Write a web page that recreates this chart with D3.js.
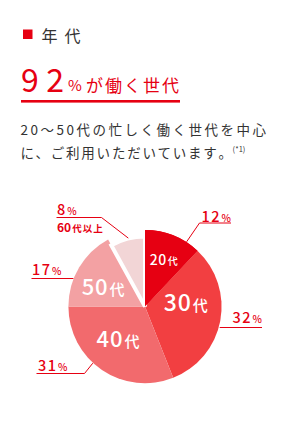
<!DOCTYPE html>
<html><head><meta charset="utf-8">
<script src="https://cdn.jsdelivr.net/npm/d3@7/dist/d3.min.js"></script>
<style>html,body{margin:0;padding:0;background:#fff;}svg{display:block;}text{font-family:"Noto Sans CJK JP","Noto Sans",sans-serif;}</style>
</head><body>
<script>
// ---- data ----
const categories = ["20代", "30代", "40代", "50代", "60代以上"];
const values = [12, 32, 31, 17, 8];
const sliceDigits = ["20", "30", "40", "50", "60"];
const title = "年代";
const headline = ["92", "%", "が働く世代"];
const bodyLines = ["20～50代の忙しく働く世代を中心", "に、ご利用いただいています", "。"];
const footnote = "(*1)";

// ---- layout ----
const W = 290, H = 445;
const red = "#e60012";
const colors = ["#e60012", "#f23f41", "#f26a6d", "#f3a1a3", "#f2d5d6"];
const cx = 145, cy = 306.6, R = 76.6, R60 = 70;
// label placement (angle deg clockwise from top, radius)
const inLabel = [{a:22,r:50,fs:14,ks:10},{a:85,r:41,fs:23,ks:15},{a:220,r:42,fs:22,ks:15},{a:294.5,r:46,fs:22,ks:15},null];
// leader lines: start angle/radius, elbow, end, text pos
const leaders = [
  {a:32.7, r:77, elbow:[199.5,223], end:[231,223], tx:231, anchor:"end", ty:221.7},
  {a:105.4, r:77.5, elbow:null, end:[262,327.5], tx:262, anchor:"end", ty:323},
  {a:222.7, r:77, elbow:[84.5,373.5], end:[36.5,373.5], tx:38, anchor:"start", ty:370.7},
  {a:291.6, r:77, elbow:null, end:[31.5,278.5], tx:32, anchor:"start", ty:275},
  {a:346.3, r:70.5, elbow:[101.5,217.5], end:[56.5,217.5], tx:57, anchor:"start", ty:215}
];

const svg = d3.select("body").append("svg").attr("width", W).attr("height", H);
svg.append("rect").attr("width", W).attr("height", H).attr("fill", "#fff");

// header
svg.append("rect").attr("x", 23).attr("y", 29.5).attr("width", 9.5).attr("height", 9.5).attr("fill", red);
svg.append("text").attr("x", 41.5).attr("y", 41.8).attr("font-size", 16).attr("fill", "#333")
  .attr("textLength", 39).attr("lengthAdjust", "spacing").text(title);

svg.append("text").attr("x", 21).attr("y", 91.8).attr("font-size", 32).attr("font-weight", 400).attr("fill", red)
  .attr("textLength", 43).attr("lengthAdjust", "spacing").text(headline[0]);
svg.append("text").attr("x", 68).attr("y", 90.5).attr("font-size", 15).attr("fill", red).text(headline[1]);
svg.append("text").attr("x", 86).attr("y", 91.5).attr("font-size", 17).attr("fill", red)
  .attr("textLength", 93).attr("lengthAdjust", "spacing").text(headline[2]);
svg.append("rect").attr("x", 21).attr("y", 100).attr("width", 159).attr("height", 2.6).attr("fill", red);

// body
svg.append("text").attr("x", 20.5).attr("y", 134.6).attr("font-size", 13.5).attr("fill", "#333")
  .attr("letter-spacing", 2.5).text(bodyLines[0]);
const l2 = svg.append("text").attr("x", 20.5).attr("y", 157.6).attr("fill", "#333").attr("font-size", 13.5);
l2.append("tspan").attr("letter-spacing", 1.8).text(bodyLines[1]);
l2.append("tspan").attr("letter-spacing", 0).text(bodyLines[2]);
l2.append("tspan").attr("font-size", 7.5).attr("dx", 0.5).attr("dy", -5.5).text(footnote);

// pie
const pie = d3.pie().sort(null).value(d => d)(values);
const g = svg.append("g").attr("transform", `translate(${cx},${cy})`);
const arc = d3.arc().innerRadius(0);
g.selectAll("path.s").data(pie).join("path").attr("class", "s")
  .attr("d", (d, i) => arc.outerRadius(i === 4 ? R60 : R)(d))
  .attr("fill", (d, i) => colors[i])
  .attr("stroke", (d, i) => i === 4 ? "#fff" : "none")
  .attr("stroke-width", (d, i) => i === 4 ? 4 : 0)
  .attr("stroke-linejoin", "miter");
g.append("path").attr("d", arc.outerRadius(R)(pie[0])).attr("fill", colors[0]);

// in-slice labels
const rad = a => a * Math.PI / 180;
inLabel.forEach((l, i) => {
  if (!l) return;
  const x = cx + l.r * Math.sin(rad(l.a)), y = cy - l.r * Math.cos(rad(l.a));
  const t = svg.append("text").attr("x", x).attr("y", y + l.fs * 0.36).attr("text-anchor", "middle")
    .attr("fill", "#fff").attr("font-weight", 500);
  t.append("tspan").attr("font-size", l.fs).attr("letter-spacing", l.fs * 0.04).text(sliceDigits[i]);
  t.append("tspan").attr("font-size", l.ks).attr("dx", 1).text(categories[i].replace(sliceDigits[i], ""));
});

// leaders
leaders.forEach((l, i) => {
  const sx = cx + l.r * Math.sin(rad(l.a)), sy = cy - l.r * Math.cos(rad(l.a));
  const pts = [[sx, sy]];
  if (l.elbow) pts.push(l.elbow); else pts[0][1] = l.end[1];
  pts.push(l.end);
  svg.append("path").attr("d", d3.line()(pts)).attr("fill", "none").attr("stroke", red).attr("stroke-width", 1);
  const t = svg.append("text").attr("x", l.tx).attr("y", l.ty).attr("text-anchor", l.anchor).attr("fill", red).attr("font-weight", 500);
  t.append("tspan").attr("font-size", 14.5).attr("letter-spacing", 1.5).text(values[i]);
  t.append("tspan").attr("font-size", 10).attr("dx", 0.5).text("%");
});
// 60代以上 sub label
const sub = svg.append("text").attr("x", 57).attr("y", 232).attr("fill", red).attr("font-weight", 700);
sub.append("tspan").attr("font-size", 12).text(sliceDigits[4]);
sub.append("tspan").attr("font-size", 9.5).attr("dx", 1).attr("letter-spacing", 1).text(categories[4].replace(sliceDigits[4], ""));
</script>
</body></html>
